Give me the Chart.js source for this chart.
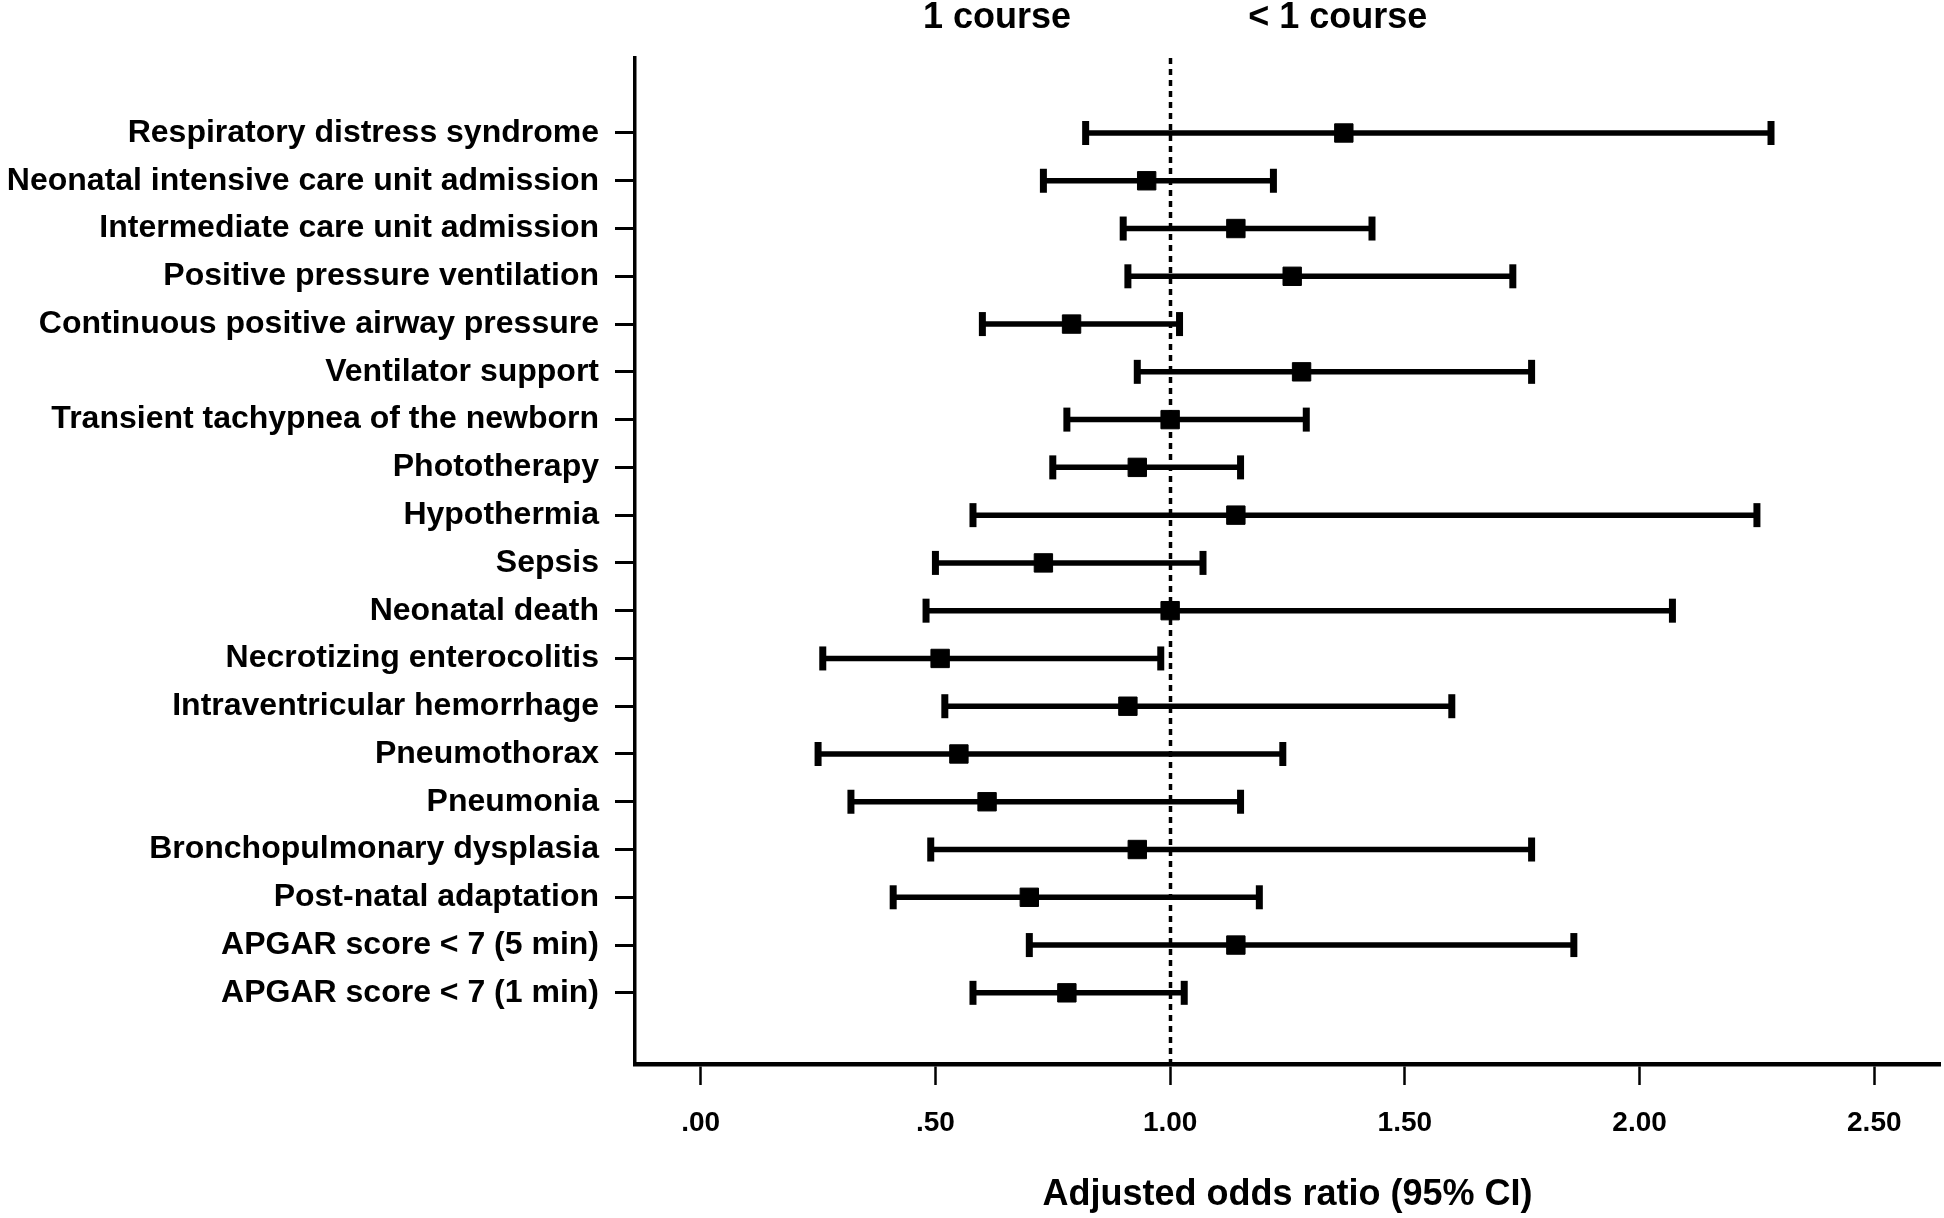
<!DOCTYPE html>
<html>
<head>
<meta charset="utf-8">
<script src="https://cdn.jsdelivr.net/npm/chart.js@4/dist/chart.umd.min.js"></script>
<style>
  html, body { margin: 0; padding: 0; background: #fff; overflow: hidden; }
  #wrap { width: 1944px; height: 1218px; position: relative; }
  #c { display: block; }
</style>
</head>
<body>
<div id="wrap"><canvas id="c"></canvas></div>
<script>
// ---- Data ----
const categories = [
  "Respiratory distress syndrome",
  "Neonatal intensive care unit admission",
  "Intermediate care unit admission",
  "Positive pressure ventilation",
  "Continuous positive airway pressure",
  "Ventilator support",
  "Transient tachypnea of the newborn",
  "Phototherapy",
  "Hypothermia",
  "Sepsis",
  "Neonatal death",
  "Necrotizing enterocolitis",
  "Intraventricular hemorrhage",
  "Pneumothorax",
  "Pneumonia",
  "Bronchopulmonary dysplasia",
  "Post-natal adaptation",
  "APGAR score < 7 (5 min)",
  "APGAR score < 7 (1 min)"
];
const oddsRatio = [1.37, 0.95, 1.14, 1.26, 0.79, 1.28, 1.00, 0.93, 1.14, 0.73, 1.00, 0.51, 0.91, 0.55, 0.61, 0.93, 0.70, 1.14, 0.78];
const ciLow     = [0.82, 0.73, 0.90, 0.91, 0.60, 0.93, 0.78, 0.75, 0.58, 0.50, 0.48, 0.26, 0.52, 0.25, 0.32, 0.49, 0.41, 0.70, 0.58];
const ciHigh    = [2.28, 1.22, 1.43, 1.73, 1.02, 1.77, 1.29, 1.15, 2.25, 1.07, 2.07, 0.98, 1.60, 1.24, 1.15, 1.77, 1.19, 1.86, 1.03];
const xTickValues = [0, 0.5, 1.0, 1.5, 2.0, 2.5];
const referenceValue = 1.0;
const leftLabel = "1 course";
const rightLabel = "< 1 course";
const xAxisTitle = "Adjusted odds ratio (95% CI)";

// ---- Styles ----
const FONT = "'Liberation Sans', Arial, sans-serif";
const BLACK = "#000000";

const ciDatasets = categories.map((c, i) => ({
  type: 'line',
  label: 'ci' + i,
  data: [{ x: ciLow[i], y: i }, { x: ciHigh[i], y: i }],
  borderColor: BLACK,
  borderWidth: 5.5,
  pointRadius: 0,
  showLine: true,
  fill: false
}));

const capData = [];
categories.forEach((c, i) => {
  capData.push({ x: ciLow[i], y: i });
  capData.push({ x: ciHigh[i], y: i });
});

const datasets = [
  {
    type: 'scatter',
    label: 'OR',
    data: oddsRatio.map((v, i) => ({ x: v, y: i })),
    pointStyle: 'rect',
    pointRadius: 13,
    backgroundColor: BLACK,
    borderColor: BLACK,
    borderWidth: 1
  },
  {
    type: 'scatter',
    label: 'caps',
    data: capData,
    pointStyle: 'line',
    rotation: 90,
    pointRadius: 12,
    borderColor: BLACK,
    borderWidth: 7
  },
  ...ciDatasets
];

const refLinePlugin = {
  id: 'refLine',
  beforeDatasetsDraw(chart) {
    const { ctx, chartArea, scales } = chart;
    const px = Math.round(scales.x.getPixelForValue(referenceValue)) + 0.5;
    ctx.save();
    ctx.strokeStyle = BLACK;
    ctx.lineWidth = 3.5;
    ctx.setLineDash([6, 5]);
    ctx.beginPath();
    ctx.moveTo(px, chartArea.top);
    ctx.lineTo(px, chartArea.bottom);
    ctx.stroke();
    ctx.restore();
  },
  afterDraw(chart) {
    const { ctx, scales } = chart;
    const px = scales.x.getPixelForValue(referenceValue);
    ctx.save();
    ctx.fillStyle = BLACK;
    ctx.font = "bold 36px " + FONT;
    ctx.textBaseline = 'middle';
    ctx.textAlign = 'right';
    ctx.fillText(leftLabel, px - 99, 18);
    ctx.textAlign = 'left';
    ctx.fillText(rightLabel, px + 78, 18);
    ctx.restore();
  }
};

new Chart(document.getElementById('c'), {
  type: 'scatter',
  data: { datasets },
  options: {
    responsive: true,
    maintainAspectRatio: false,
    animation: false,
    layout: { autoPadding: false, padding: { top: 58, right: 4, left: 0, bottom: 0 } },
    plugins: {
      legend: { display: false },
      tooltip: { enabled: false }
    },
    scales: {
      x: {
        type: 'linear',
        position: 'bottom',
        min: -0.14,
        max: 2.64,
        afterBuildTicks(scale) {
          scale.ticks = xTickValues.map(v => ({ value: v }));
        },
        afterFit(scale) {
          scale.height = 154;
          scale.paddingLeft = 0;
          scale.paddingRight = 0;
        },
        ticks: {
          color: BLACK,
          font: { family: FONT, size: 28, weight: 'bold' },
          padding: 21,
          callback(v) {
            const s = Number(v).toFixed(2);
            return s.startsWith('0') ? s.slice(1) : s;
          }
        },
        grid: {
          display: true,
          drawOnChartArea: false,
          drawTicks: true,
          tickLength: 21,
          tickWidth: 2.5,
          tickColor: BLACK
        },
        border: { display: true, color: BLACK, width: 4.5 },
        title: {
          display: true,
          text: xAxisTitle,
          color: BLACK,
          font: { family: FONT, size: 36, weight: 'bold' },
          padding: { top: 0, bottom: 1 }
        }
      },
      y: {
        type: 'linear',
        position: 'left',
        reverse: true,
        min: -1.57,
        max: 19.49,
        afterBuildTicks(scale) {
          scale.ticks = categories.map((c, i) => ({ value: i }));
        },
        afterFit(scale) {
          scale.width = 635;
          scale.paddingTop = 0;
          scale.paddingBottom = 0;
        },
        ticks: {
          color: BLACK,
          font: { family: FONT, size: 32, weight: 'bold' },
          padding: 16,
          autoSkip: false,
          callback(v) { return categories[v] !== undefined ? categories[v] : ''; }
        },
        grid: {
          display: true,
          drawOnChartArea: false,
          drawTicks: true,
          tickLength: 20,
          tickWidth: 3,
          tickColor: BLACK
        },
        border: { display: true, color: BLACK, width: 3.5 }
      }
    }
  },
  plugins: [refLinePlugin]
});
</script>
</body>
</html>
